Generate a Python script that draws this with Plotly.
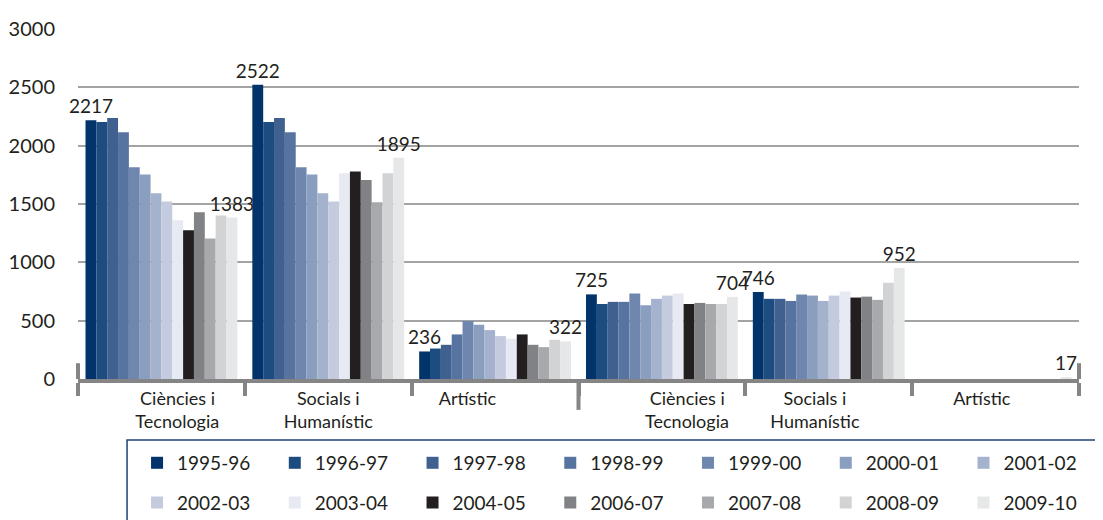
import plotly.graph_objects as go

# --- DATA ---
categories = ["CT1", "SH1", "A1", "CT2", "SH2", "A2"]
NB = "\u00a0"
category_labels = [
    NB * 7 + "Ciències i<br>" + NB * 7 + "Tecnologia",
    "Socials i<br>Humanístic",
    "Artístic" + NB * 12,
    NB * 11 + "Ciències i<br>" + NB * 11 + "Tecnologia",
    "Socials i" + NB * 6 + "<br>Humanístic" + NB * 6,
    "Artístic" + NB * 6,
]

years = ["1995-96", "1996-97", "1997-98", "1998-99", "1999-00", "2000-01", "2001-02",
         "2002-03", "2003-04", "2004-05", "2006-07", "2007-08", "2008-09", "2009-10"]

v_1995_96 = [2217, 2522, 236, 725, 746, None]
v_1996_97 = [2203, 2203, 261, 643, 687, None]
v_1997_98 = [2237, 2237, 293, 661, 687, None]
v_1998_99 = [2114, 2114, 382, 661, 669, None]
v_1999_00 = [1815, 1815, 497, 732, 724, None]
v_2000_01 = [1752, 1752, 465, 632, 715, None]
v_2001_02 = [1591, 1591, 419, 687, 669, None]
v_2002_03 = [1522, 1522, 368, 715, 715, None]
v_2003_04 = [1361, 1764, 345, 732, 750, None]
v_2004_05 = [1275, 1778, 382, 643, 698, None]
v_2006_07 = [1428, 1706, 293, 652, 706, None]
v_2007_08 = [1204, 1514, 273, 643, 678, None]
v_2008_09 = [1402, 1764, 336, 643, 824, None]
v_2009_10 = [1383, 1895, 322, 704, 952, 17]

series = [v_1995_96, v_1996_97, v_1997_98, v_1998_99, v_1999_00, v_2000_01, v_2001_02,
          v_2002_03, v_2003_04, v_2004_05, v_2006_07, v_2007_08, v_2008_09, v_2009_10]

colors = ["#02336a", "#1d4d80", "#40618f", "#5773a0", "#6f87ae", "#8a9ebf", "#a5b2cd",
          "#c5cbdf", "#e7e9f3", "#231f20", "#808285", "#a7a9ac", "#d1d3d4", "#e6e7e8"]

FONT = "Lato"
TXT = "#231f20"
AXIS = "#858585"

fig = go.Figure()

for i, (yr, vals) in enumerate(zip(years, series)):
    # only first and last season carry value labels
    if i == 0 or i == len(years) - 1:
        text = [str(v) if v is not None else "" for v in vals]
    else:
        text = None
    fig.add_trace(go.Bar(
        x=categories, y=vals, name=yr,
        marker=dict(color=colors[i], line=dict(width=0)),
        text=text, textposition="outside", constraintext="none",
        textfont=dict(size=19, color=TXT, family=FONT),
        cliponaxis=False,
        legend="legend" if i < 7 else "legend2",  # two legend rows of seven
    ))

# axis decorations: end stubs and the longer middle separator
fig.add_shape(type="line", xref="paper", yref="paper", x0=0, x1=0, y0=0, y1=0.045,
              line=dict(color=AXIS, width=4))
fig.add_shape(type="line", xref="paper", yref="paper", x0=1, x1=1, y0=0, y1=0.045,
              line=dict(color=AXIS, width=4))
fig.add_shape(type="line", xref="x", yref="paper", x0=2.5, x1=2.5, y0=0, y1=-0.088,
              line=dict(color=AXIS, width=4))

# legend frame (runs off the page like in the source)
fig.add_shape(type="rect", xref="paper", yref="paper", x0=0.049, x1=1.1, y0=-0.174, y1=-0.5,
              line=dict(color="#1f4373", width=1.5), fillcolor="rgba(0,0,0,0)")

legend_style = dict(
    orientation="h", x=0.059, xanchor="left", yanchor="top",
    font=dict(size=19, color=TXT, family=FONT),
    entrywidth=0.1376, entrywidthmode="fraction",
    bgcolor="rgba(0,0,0,0)", borderwidth=0, traceorder="normal",
)

fig.update_layout(
    width=1103, height=520,
    margin=dict(l=70, r=32, t=20, b=149, autoexpand=False),
    paper_bgcolor="white", plot_bgcolor="white",
    barmode="group", bargap=0.09, bargroupgap=0,
    font=dict(family=FONT, color=TXT),
    showlegend=True,
    legend=dict(legend_style, y=-0.185),
    legend2=dict(legend_style, y=-0.298),
    xaxis=dict(
        type="category", tickmode="array", tickvals=categories, ticktext=category_labels,
        tickson="boundaries", ticks="outside", ticklen=13, tickwidth=4, tickcolor=AXIS,
        showline=True, linecolor=AXIS, linewidth=4,
        tickfont=dict(size=18, color=TXT, family=FONT),
        showgrid=False,
    ),
    yaxis=dict(
        range=[0, 3008], tickvals=[0, 500, 1000, 1500, 2000, 2500, 3000],
        showgrid=True, gridcolor="#a3a3a3", gridwidth=1.5,
        zeroline=False, showline=False, ticks="",
        ticklabelstandoff=22,
        tickfont=dict(size=20, color=TXT, family=FONT),
    ),
)

fig.write_html("out.html")
